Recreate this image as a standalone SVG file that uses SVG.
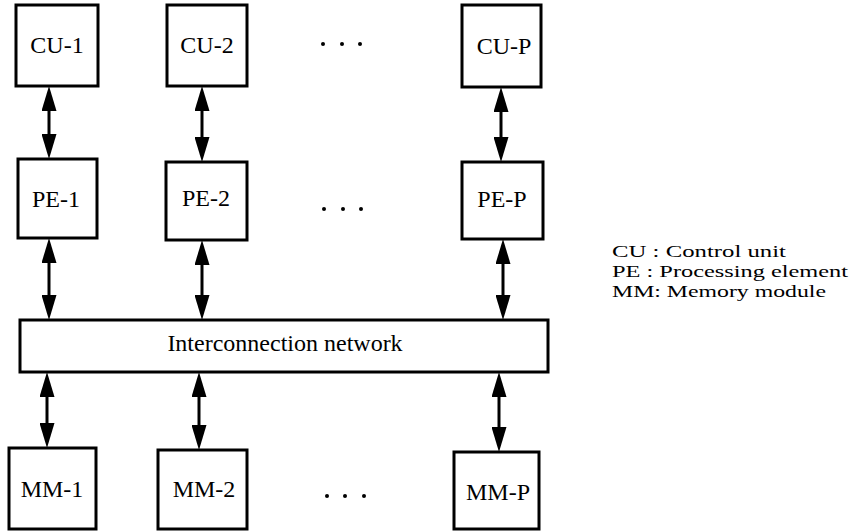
<svg xmlns="http://www.w3.org/2000/svg" width="859" height="531" viewBox="0 0 859 531">
<style>
.box{fill:#fff;stroke:#000;stroke-width:3}
.lbl{font-family:"Liberation Serif","Times New Roman",serif;font-size:24px;fill:#000;text-anchor:middle}
.leg{font-family:"Liberation Serif","Times New Roman",serif;font-size:17px;fill:#000}
.conn{stroke:#000;stroke-width:3;fill:none;marker-start:url(#ah);marker-end:url(#ah)}
.dot{fill:#000}
</style>
<defs>
<marker id="ah" viewBox="0 0 25 15" refX="15" refY="7.5" markerWidth="25" markerHeight="15" markerUnits="userSpaceOnUse" orient="auto-start-reverse">
<path d="M0,0 L25,7.5 L0,15 z" fill="#000"/>
</marker>
</defs>
<rect width="859" height="531" fill="#fff"/>
<g id="connectors">
<line class="conn" x1="49" y1="96" x2="49" y2="149"/>
<line class="conn" x1="202" y1="96" x2="202" y2="152"/>
<line class="conn" x1="501" y1="97" x2="501" y2="152"/>
<line class="conn" x1="49" y1="248" x2="49" y2="310"/>
<line class="conn" x1="202" y1="250" x2="202" y2="310"/>
<line class="conn" x1="503" y1="249" x2="503" y2="310"/>
<line class="conn" x1="47" y1="382" x2="47" y2="438"/>
<line class="conn" x1="199" y1="382" x2="199" y2="440"/>
<line class="conn" x1="499" y1="382" x2="499" y2="442"/>
</g>
<g id="cu1"><rect class="box" x="16" y="5" width="82" height="81"/><text class="lbl" x="57" y="53">CU-1</text></g>
<g id="cu2"><rect class="box" x="167" y="5" width="80" height="81"/><text class="lbl" x="207" y="53">CU-2</text></g>
<g id="cup"><rect class="box" x="462" y="5" width="79" height="82"/><text class="lbl" x="504" y="54">CU-P</text></g>
<g id="pe1"><rect class="box" x="18" y="159" width="79" height="79"/><text class="lbl" x="56" y="207">PE-1</text></g>
<g id="pe2"><rect class="box" x="166" y="162" width="81" height="78"/><text class="lbl" x="206" y="206">PE-2</text></g>
<g id="pep"><rect class="box" x="462" y="162" width="81" height="77"/><text class="lbl" x="502" y="207">PE-P</text></g>
<g id="network"><rect class="box" x="20" y="320" width="528" height="52"/><text class="lbl" x="285" y="351">Interconnection network</text></g>
<g id="mm1"><rect class="box" x="9" y="448" width="87" height="81"/><text class="lbl" x="52" y="497">MM-1</text></g>
<g id="mm2"><rect class="box" x="158" y="450" width="89" height="79"/><text class="lbl" x="204" y="497">MM-2</text></g>
<g id="mmp"><rect class="box" x="454" y="452" width="85" height="77"/><text class="lbl" x="498" y="500">MM-P</text></g>
<g id="dots">
<circle class="dot" cx="323" cy="44" r="2"/><circle class="dot" cx="342" cy="44" r="2"/><circle class="dot" cx="360" cy="44" r="2"/>
<circle class="dot" cx="324" cy="209" r="2"/><circle class="dot" cx="343" cy="209" r="2"/><circle class="dot" cx="361" cy="209" r="2"/>
<circle class="dot" cx="327" cy="496" r="2"/><circle class="dot" cx="345" cy="496" r="2"/><circle class="dot" cx="364" cy="496" r="2"/>
</g>
<g id="legend">
<text class="leg" x="612" y="257" textLength="174" lengthAdjust="spacingAndGlyphs">CU : Control unit</text>
<text class="leg" x="612" y="277" textLength="236" lengthAdjust="spacingAndGlyphs">PE : Processing element</text>
<text class="leg" x="612" y="297" textLength="214" lengthAdjust="spacingAndGlyphs">MM: Memory module</text>
</g>
</svg>
